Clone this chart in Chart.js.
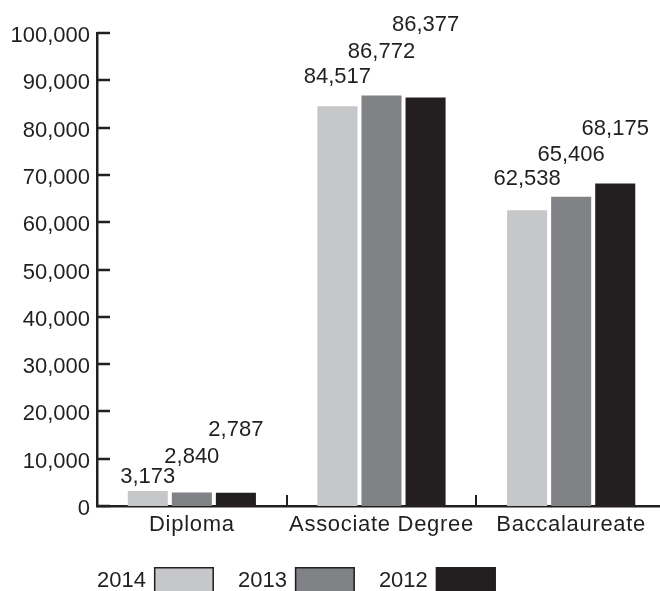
<!DOCTYPE html>
<html>
<head>
<meta charset="utf-8">
<script src="https://cdn.jsdelivr.net/npm/chart.js@4.4.1/dist/chart.umd.min.js"></script>
<style>
  html, body { margin: 0; padding: 0; background: #fff; overflow: hidden; }
  #wrap { width: 666px; height: 591px; }
</style>
</head>
<body>
<div id="wrap"><canvas id="nursingChart"></canvas></div>
<script>
// Chart data
const categories = ['Diploma', 'Associate Degree', 'Baccalaureate'];
const seriesNames = ['2014', '2013', '2012'];
const values2014 = [3173, 84517, 62538];
const values2013 = [2840, 86772, 65406];
const values2012 = [2787, 86377, 68175];
const yTicks = [0, 10000, 20000, 30000, 40000, 50000, 60000, 70000, 80000, 90000, 100000];

// Styling
const ink = '#231f20';
const barColors = ['#c6c7c9', '#808285', '#231f20'];
const fontFamily = "'Liberation Sans', Arial, sans-serif";
const fontSize = 22;
// how far (px) each value label sits above its bar, per series
const labelRaise = [[8, 23, 25], [30, 38, 36], [57, 66, 49]];

const fmt = v => v.toLocaleString('en-US');

// inward tick marks on both axes + category names (a bit wider set than the default)
const axisMarks = {
    id: 'axisMarks',
    afterDraw(chart) {
        const { ctx, chartArea, scales: { x, y } } = chart;
        ctx.save();
        ctx.strokeStyle = ink;
        ctx.lineWidth = 2.5;
        y.ticks.forEach(t => {
            const py = Math.round(y.getPixelForValue(t.value));
            ctx.beginPath();
            ctx.moveTo(chartArea.left, py);
            ctx.lineTo(chartArea.left + 13, py);
            ctx.stroke();
        });
        ctx.lineWidth = 2;
        for (let i = 0; i < categories.length - 1; i++) {
            const px = Math.round((x.getPixelForValue(i) + x.getPixelForValue(i + 1)) / 2);
            ctx.beginPath();
            ctx.moveTo(px, chartArea.bottom);
            ctx.lineTo(px, chartArea.bottom - 11);
            ctx.stroke();
        }
        ctx.font = fontSize + 'px ' + fontFamily;
        ctx.fillStyle = ink;
        ctx.textAlign = 'center';
        ctx.textBaseline = 'middle';
        ctx.letterSpacing = '0.7px';
        categories.forEach((c, i) => {
            ctx.fillText(c, x.getPixelForValue(i), chartArea.bottom + 19);
        });
        ctx.restore();
    }
};

// staggered value labels over the bars
const valueLabels = {
    id: 'valueLabels',
    afterDatasetsDraw(chart) {
        const ctx = chart.ctx;
        ctx.save();
        ctx.font = fontSize + 'px ' + fontFamily;
        ctx.fillStyle = ink;
        ctx.textAlign = 'center';
        ctx.textBaseline = 'alphabetic';
        chart.data.datasets.forEach((ds, di) => {
            chart.getDatasetMeta(di).data.forEach((bar, i) => {
                ctx.fillText(fmt(ds.data[i]), bar.x, bar.y - labelRaise[di][i]);
            });
        });
        ctx.restore();
    }
};

// legend at the bottom: text first, then the swatch
const bottomLegend = {
    id: 'bottomLegend',
    afterDraw(chart) {
        const ctx = chart.ctx;
        const top = chart.height - 24;
        const mid = chart.height - 10;
        let px = chart.chartArea.left;
        ctx.save();
        ctx.font = fontSize + 'px ' + fontFamily;
        ctx.textAlign = 'left';
        ctx.textBaseline = 'middle';
        chart.data.datasets.forEach(ds => {
            ctx.fillStyle = ink;
            ctx.fillText(ds.label, px, mid);
            px += ctx.measureText(ds.label).width + 8;
            ctx.fillStyle = ds.backgroundColor;
            ctx.fillRect(px, top, 60, 30);
            ctx.strokeStyle = ink;
            ctx.lineWidth = 1.5;
            ctx.strokeRect(px + 0.75, top + 0.75, 58.5, 30);
            px += 60 + 24;
        });
        ctx.restore();
    }
};

Chart.defaults.font.family = fontFamily;
Chart.defaults.font.size = fontSize;
Chart.defaults.color = ink;

const ctx = document.getElementById('nursingChart').getContext('2d');
new Chart(ctx, {
    type: 'bar',
    data: {
        labels: categories,
        datasets: [
            { label: seriesNames[0], data: values2014, backgroundColor: barColors[0] },
            { label: seriesNames[1], data: values2013, backgroundColor: barColors[1] },
            { label: seriesNames[2], data: values2012, backgroundColor: barColors[2] }
        ]
    },
    options: {
        responsive: true,
        maintainAspectRatio: false,
        animation: false,
        devicePixelRatio: 1,
        layout: { padding: { top: 33, left: 0, right: 0, bottom: 0 } },
        datasets: {
            bar: { categoryPercentage: 0.697, barPercentage: 0.909, borderWidth: 0 }
        },
        plugins: {
            legend: { display: false },
            tooltip: { enabled: false }
        },
        scales: {
            x: {
                grid: { display: false, drawTicks: false },
                border: { display: true, color: ink, width: 2.5 },
                ticks: { display: false },
                afterFit: s => { s.height = 85; s.paddingLeft = 0; s.paddingRight = 0; }
            },
            y: {
                min: 0,
                max: 100000,
                grid: { display: false, drawTicks: false },
                border: { display: true, color: ink, width: 2.5 },
                afterBuildTicks: s => { s.ticks = yTicks.map(v => ({ value: v })); },
                ticks: { padding: 7, color: ink, labelOffset: 3, callback: v => fmt(v) },
                afterFit: s => { s.width = 97; s.paddingTop = 0; s.paddingBottom = 0; }
            }
        }
    },
    plugins: [axisMarks, valueLabels, bottomLegend]
});
</script>
</body>
</html>
